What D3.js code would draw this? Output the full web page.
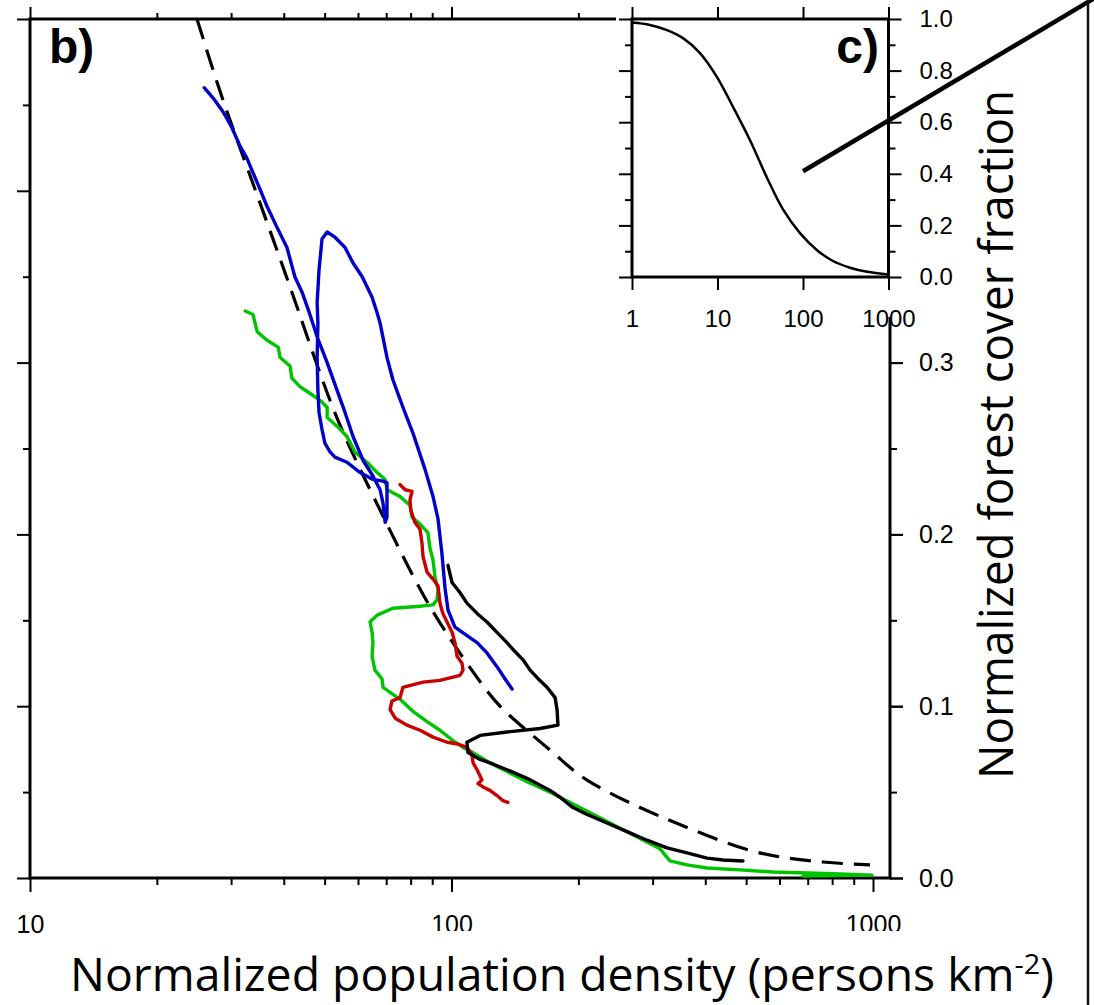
<!DOCTYPE html>
<html>
<head>
<meta charset="utf-8">
<script src="https://cdn.jsdelivr.net/npm/d3@7/dist/d3.min.js"></script>
<style>
  body { margin: 0; background: #fff; }
  svg { display: block; }
  .tick text { font-family: "Liberation Sans", Arial, Helvetica, sans-serif; fill: #000; }
</style>
</head>
<body>
<script>
// ---- data ----
const mainXMajor = [10, 100, 1000];
const mainXMinor = [20, 30, 40, 50, 60, 70, 80, 90, 200, 300, 400, 500, 600, 700, 800, 900];
const mainYMajor = [0, 0.1, 0.2, 0.3, 0.4, 0.5];
const mainYMinor = [0.05, 0.15, 0.25, 0.35, 0.45];
const mainYLabelled = [0, 0.1, 0.2, 0.3]; // the rest sit under the inset
const insetXTicks = [1, 10, 100, 1000];
const insetYMajor = [0, 0.2, 0.4, 0.6, 0.8, 1.0];
const insetYMinor = [0.1, 0.3, 0.5, 0.7, 0.9];

// density (persons km-2), forest cover fraction
const blue = [
  [25.9, 0.460], [27.2, 0.454], [28.7, 0.446], [30.1, 0.437], [31.5, 0.426], [32.7, 0.419],
  [34.7, 0.404], [36.5, 0.391], [38.5, 0.379], [40.7, 0.367], [42.5, 0.350], [44.2, 0.341],
  [45.7, 0.331], [48.0, 0.315], [50.7, 0.300], [53.5, 0.284], [55.9, 0.271], [58.4, 0.257],
  [61.7, 0.243], [65.1, 0.234], [67.7, 0.226], [68.8, 0.218], [69.6, 0.207], [70.3, 0.210],
  [70.3, 0.222], [70.3, 0.230], [68.8, 0.231], [65.1, 0.232], [60.7, 0.236], [56.5, 0.242],
  [52.9, 0.245], [51.5, 0.248], [50.1, 0.253], [49.3, 0.261], [48.5, 0.271], [48.2, 0.284],
  [48.0, 0.303], [48.2, 0.323], [48.0, 0.335], [48.5, 0.354], [49.3, 0.372], [50.7, 0.376],
  [52.9, 0.373], [55.9, 0.367], [58.4, 0.358], [61.4, 0.350], [64.8, 0.338], [66.6, 0.329],
  [67.7, 0.323], [70.3, 0.303], [72.6, 0.290], [76.7, 0.274], [81.0, 0.259], [86.5, 0.238],
  [90.4, 0.222], [92.9, 0.209], [94.9, 0.189], [96.5, 0.169], [98.1, 0.156], [101.9, 0.146],
  [107.6, 0.142], [115.0, 0.137], [121.4, 0.131], [128.2, 0.123], [133.9, 0.116], [139.2, 0.110]
];
const green = [
  [32.4, 0.330], [33.8, 0.328], [34.6, 0.318], [36.5, 0.313], [38.8, 0.309], [39.2, 0.303],
  [41.4, 0.298], [41.8, 0.291], [43.7, 0.286], [46.2, 0.282], [48.8, 0.278], [50.7, 0.274],
  [50.7, 0.268], [53.5, 0.263], [56.5, 0.257], [59.0, 0.248], [63.0, 0.242], [66.6, 0.236],
  [69.6, 0.232], [70.3, 0.226], [75.5, 0.222], [79.7, 0.217], [80.6, 0.210], [84.2, 0.206],
  [87.9, 0.201], [88.9, 0.192], [90.4, 0.185], [91.4, 0.175], [92.9, 0.168], [92.4, 0.162],
  [90.4, 0.159], [82.8, 0.158], [72.6, 0.157], [66.6, 0.153], [64.1, 0.149], [64.8, 0.143],
  [65.1, 0.137], [64.8, 0.129], [65.8, 0.121], [68.4, 0.116], [68.8, 0.111], [75.5, 0.104],
  [81.0, 0.097], [87.5, 0.091], [93.9, 0.086], [100.8, 0.080], [106.5, 0.076], [112.5, 0.073],
  [123.4, 0.067], [135.4, 0.062], [151.1, 0.056], [171.3, 0.050], [194.2, 0.043], [221.4, 0.036],
  [251.1, 0.029], [280.1, 0.023], [312.4, 0.017], [329.9, 0.010], [362.1, 0.0076], [403.9, 0.0058],
  [483.6, 0.0047], [579.1, 0.0035], [697.4, 0.0029], [835.2, 0.0023], [994.5, 0.0017], [682.3, 0.0012]
];
const red = [
  [75.5, 0.229], [77.6, 0.226], [80.6, 0.225], [79.7, 0.220], [80.1, 0.214], [81.9, 0.207],
  [84.2, 0.203], [85.1, 0.195], [85.6, 0.187], [87.5, 0.178], [90.4, 0.174], [92.9, 0.170],
  [93.9, 0.160], [95.4, 0.154], [97.6, 0.149], [100.3, 0.143], [101.9, 0.137], [103.1, 0.129],
  [105.9, 0.125], [106.5, 0.121], [104.8, 0.118], [93.9, 0.115], [85.6, 0.114], [76.7, 0.111],
  [75.5, 0.105], [72.2, 0.103], [71.5, 0.098], [73.5, 0.093], [78.4, 0.089], [84.2, 0.086],
  [90.4, 0.082], [97.6, 0.079], [103.6, 0.078], [108.8, 0.076], [111.8, 0.072], [112.5, 0.067],
  [115.0, 0.063], [118.1, 0.057], [115.6, 0.055], [118.8, 0.053], [123.4, 0.051], [128.2, 0.048],
  [132.5, 0.045], [136.1, 0.044]
];
const black = [
  [98.1, 0.182], [100.3, 0.172], [104.8, 0.166], [108.8, 0.160], [115.0, 0.154], [121.4, 0.149],
  [128.2, 0.143], [135.4, 0.137], [140.0, 0.133], [147.8, 0.127], [153.6, 0.121], [160.5, 0.116],
  [168.5, 0.111], [176.1, 0.105], [178.0, 0.098], [178.9, 0.089], [162.2, 0.087], [135.4, 0.085],
  [116.9, 0.083], [108.8, 0.079], [109.4, 0.073], [116.9, 0.069], [123.4, 0.067], [135.4, 0.063],
  [151.1, 0.058], [171.3, 0.051], [180.9, 0.047], [194.2, 0.041], [209.7, 0.037], [233.8, 0.032],
  [260.9, 0.027], [290.9, 0.022], [324.6, 0.0175], [362.1, 0.0146], [403.9, 0.0116], [440.7, 0.0105],
  [491.5, 0.0099]
];
const model = [
  [24.9, 0.500], [28.5, 0.455], [32.7, 0.414], [37.7, 0.372], [43.2, 0.331], [51.5, 0.278],
  [60.7, 0.238], [72.6, 0.199], [88.9, 0.158], [108.8, 0.125], [118.8, 0.112], [135.4, 0.096],
  [174.1, 0.073], [209.7, 0.057], [280.1, 0.041], [374.1, 0.028], [530.7, 0.015], [761.2, 0.0093],
  [983.8, 0.0076]
];
const insetCurve = [
  [1.0, 0.986], [1.62, 0.977], [2.57, 0.957], [3.95, 0.926], [6.24, 0.868], [9.87, 0.775],
  [15.2, 0.659], [24.0, 0.530], [37.9, 0.385], [58.4, 0.262], [92.2, 0.170], [146, 0.104],
  [224, 0.062], [355, 0.036], [562, 0.020], [1000, 0.010]
];

// ---- layout ----
const W = 1094, H = 1005;
const svg = d3.select('body').append('svg').attr('width', W).attr('height', H);
svg.append('rect').attr('width', W).attr('height', H).attr('fill', '#fff');

const frame = { left: 30, right: 890, top: 19, bottom: 878 };
const x = d3.scaleLog().domain([10, 1000]).range([30, 873]);
const y = d3.scaleLinear().domain([0, 0.5]).range([878, 19]);

function styleAxis(g) {
    g.select('.domain').remove();
    g.selectAll('.tick line').attr('stroke', '#000').attr('stroke-width', 2);
}

// main axes
svg.append('g').attr('transform', `translate(0,${frame.bottom})`)
    .call(d3.axisBottom(x).tickValues(mainXMajor).tickSize(14).tickPadding(23).tickFormat(d3.format('d')))
    .call(styleAxis).selectAll('text').attr('font-size', 25);
svg.append('g').attr('transform', `translate(0,${frame.bottom})`)
    .call(d3.axisBottom(x).tickValues(mainXMinor).tickSize(7).tickFormat(''))
    .call(styleAxis);
svg.append('g').attr('transform', `translate(0,${frame.top})`)
    .call(d3.axisTop(x).tickValues(mainXMajor).tickSize(12).tickFormat(''))
    .call(styleAxis);
svg.append('g').attr('transform', `translate(0,${frame.top})`)
    .call(d3.axisTop(x).tickValues(mainXMinor).tickSize(6).tickFormat(''))
    .call(styleAxis);
svg.append('g').attr('transform', `translate(${frame.left},0)`)
    .call(d3.axisLeft(y).tickValues(mainYMajor).tickSize(13).tickFormat(''))
    .call(styleAxis);
svg.append('g').attr('transform', `translate(${frame.left},0)`)
    .call(d3.axisLeft(y).tickValues(mainYMinor).tickSize(7).tickFormat(''))
    .call(styleAxis);
svg.append('g').attr('transform', `translate(${frame.right},0)`)
    .call(d3.axisRight(y).tickValues(mainYMajor).tickSize(13).tickFormat(''))
    .call(styleAxis);
svg.append('g').attr('transform', `translate(${frame.right},0)`)
    .call(d3.axisRight(y).tickValues(mainYLabelled).tickSize(13).tickPadding(16).tickFormat(d3.format('.1f')))
    .call(styleAxis).selectAll('text').attr('font-size', 25);
svg.append('g').attr('transform', `translate(${frame.right},0)`)
    .call(d3.axisRight(y).tickValues(mainYMinor).tickSize(7).tickFormat(''))
    .call(styleAxis);

svg.append('rect')
    .attr('x', frame.left).attr('y', frame.top)
    .attr('width', frame.right - frame.left).attr('height', frame.bottom - frame.top)
    .attr('fill', 'none').attr('stroke', '#000').attr('stroke-width', 3);

// series
svg.append('clipPath').attr('id', 'plot')
    .append('rect').attr('x', frame.left).attr('y', frame.top)
    .attr('width', frame.right - frame.left).attr('height', frame.bottom - frame.top);
const plot = svg.append('g').attr('clip-path', 'url(#plot)');
const line = d3.line().x(d => x(d[0])).y(d => y(d[1]));

plot.append('path').datum(model)
    .attr('d', line.curve(d3.curveNatural))
    .attr('fill', 'none').attr('stroke', '#000').attr('stroke-width', 3.2)
    .attr('stroke-dasharray', '21,11');
line.curve(d3.curveLinear);
const seriesList = [
    { data: green, color: '#00c400' },
    { data: blue, color: '#0000c8' },
    { data: red, color: '#c80000' },
    { data: black, color: '#000000' }
];
for (const s of seriesList) {
    plot.append('path').datum(s.data)
        .attr('d', line)
        .attr('fill', 'none').attr('stroke', s.color).attr('stroke-width', 3.4)
        .attr('stroke-linejoin', 'round').attr('stroke-linecap', 'round');
}

svg.append('text').attr('x', 49).attr('y', 63)
    .attr('font-family', '"Liberation Sans", Arial, sans-serif')
    .attr('font-weight', 'bold').attr('font-size', 48).text('b)');

// ---- inset c) ----
const ix = d3.scaleLog().domain([1, 1000]).range([632, 888.5]);
const iy = d3.scaleLinear().domain([0, 1]).range([277, 19]);
const inset = svg.append('g');
inset.append('rect').attr('x', 616).attr('y', 0).attr('width', 350).attr('height', 317).attr('fill', '#fff');

inset.append('g').attr('transform', 'translate(0,277)')
    .call(d3.axisBottom(ix).tickValues(insetXTicks).tickSize(13).tickPadding(20).tickFormat(d3.format('d')))
    .call(styleAxis).selectAll('text').attr('font-size', 24);
inset.append('g').attr('transform', 'translate(0,19)')
    .call(d3.axisTop(ix).tickValues(insetXTicks).tickSize(12).tickFormat(''))
    .call(styleAxis);
inset.append('g').attr('transform', 'translate(632,0)')
    .call(d3.axisLeft(iy).tickValues(insetYMajor).tickSize(13).tickFormat(''))
    .call(styleAxis);
inset.append('g').attr('transform', 'translate(632,0)')
    .call(d3.axisLeft(iy).tickValues(insetYMinor).tickSize(7).tickFormat(''))
    .call(styleAxis);
inset.append('g').attr('transform', 'translate(888.5,0)')
    .call(d3.axisRight(iy).tickValues(insetYMajor).tickSize(13).tickPadding(18).tickFormat(d3.format('.1f')))
    .call(styleAxis).selectAll('text').attr('font-size', 24);
inset.append('g').attr('transform', 'translate(888.5,0)')
    .call(d3.axisRight(iy).tickValues(insetYMinor).tickSize(7).tickFormat(''))
    .call(styleAxis);

inset.append('path').datum(insetCurve)
    .attr('d', d3.line().x(d => ix(d[0])).y(d => iy(d[1])).curve(d3.curveCatmullRom))
    .attr('fill', 'none').attr('stroke', '#000').attr('stroke-width', 2.5);
inset.append('rect').attr('x', 632).attr('y', 19).attr('width', 256.5).attr('height', 258)
    .attr('fill', 'none').attr('stroke', '#000').attr('stroke-width', 3);
inset.append('text').attr('x', 879).attr('y', 63).attr('text-anchor', 'end')
    .attr('font-family', '"Liberation Sans", Arial, sans-serif')
    .attr('font-weight', 'bold').attr('font-size', 48).text('c)');

// pointer and neighbour panel edge
svg.append('line')
    .attr('x1', ix(100)).attr('y1', iy(0.41)).attr('x2', 1094).attr('y2', -1.5)
    .attr('stroke', '#000').attr('stroke-width', 4.5);
svg.append('line').attr('x1', 1088).attr('x2', 1088).attr('y1', 0).attr('y2', H)
    .attr('stroke', '#111').attr('stroke-width', 2.5);

// axis titles
const titleFont = '"Open Sans", "Noto Sans", sans-serif';
svg.append('rect').attr('x', 60).attr('y', 931).attr('width', 1020).attr('height', 74).attr('fill', '#fff');
const xt = svg.append('text').attr('x', 562).attr('y', 991).attr('text-anchor', 'middle')
    .attr('font-family', titleFont).attr('font-size', 45)
    .attr('textLength', 984).attr('lengthAdjust', 'spacingAndGlyphs');
xt.append('tspan').text('Normalized population density (persons km');
xt.append('tspan').attr('dy', -17).attr('font-size', 28).text('-2');
xt.append('tspan').attr('dy', 17).text(')');

svg.append('text')
    .attr('transform', 'translate(1013,434.5) rotate(-90)')
    .attr('text-anchor', 'middle')
    .attr('font-family', titleFont).attr('font-size', 47)
    .attr('textLength', 689).attr('lengthAdjust', 'spacingAndGlyphs')
    .text('Normalized forest cover fraction');
</script>
</body>
</html>
